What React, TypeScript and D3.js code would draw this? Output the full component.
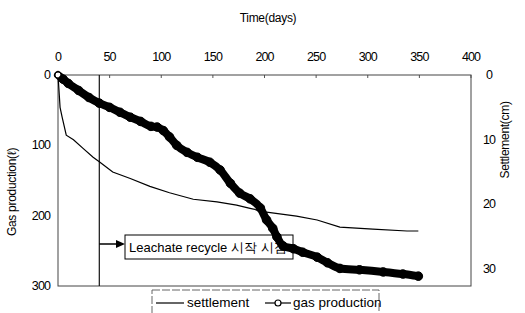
import * as d3 from 'd3';

// gas production (left axis, litres) vs time (days)
const gasDays = [0, 5, 10, 20, 30, 40, 50, 60, 70, 80, 90, 96, 102, 108, 115, 125, 135, 147, 157, 167, 176, 186, 196, 202, 208, 212, 218, 228, 237, 251, 261, 273, 292, 315, 334, 349];
const gasValues = [0, 6, 12, 22, 32, 40, 46, 53, 60, 66, 73, 74, 79, 88, 100, 110, 117, 124, 135, 154, 168, 176, 189, 206, 218, 230, 243, 247, 252, 259, 267, 275, 277, 280, 283, 286];

// settlement (right axis, cm) vs time (days)
const settleDays = [0, 2, 4, 8, 15, 24, 34, 40, 53, 70, 89, 108, 131, 154, 173, 186, 202, 231, 251, 273, 305, 338, 349];
const settleValues = [0, 5.0, 6.5, 9.3, 10.0, 11.3, 12.7, 13.4, 15.0, 16.0, 17.2, 18.2, 19.2, 19.6, 20.1, 20.6, 21.2, 21.8, 22.4, 23.5, 23.8, 24.1, 24.1];

const timeTicks = [0, 50, 100, 150, 200, 250, 300, 350, 400];
const gasTicks = [0, 100, 200, 300];
const settleTicks = [0, 10, 20, 30];
const recycleDay = 40;

const W = 525;
const H = 313;
const font = '"Liberation Sans", Arial, sans-serif';

export default function App() {
  const x = d3.scaleLinear().domain([0, 400]).range([58, 471]);
  const yL = d3.scaleLinear().domain([0, 300]).range([75, 286]);
  const yR = d3.scaleLinear().domain([0, 32.6]).range([75, 286]);

  const gasPts = gasDays.map((d, i) => [d, gasValues[i]] as [number, number]);
  const setPts = settleDays.map((d, i) => [d, settleValues[i]] as [number, number]);

  const gasLine = d3.line<[number, number]>().x((d) => x(d[0])).y((d) => yL(d[1])).curve(d3.curveMonotoneX);
  const setLine = d3.line<[number, number]>().x((d) => x(d[0])).y((d) => yR(d[1]));

  const [x0, x1] = x.range();
  const [y0, y1] = yL.range();
  const arrowY = 244;
  const boxX = 125;

  return (
    <svg width={W} height={H} style={{ position: 'absolute', left: 0, top: 0, background: '#fff' }} fontFamily={font}>
      {/* titles */}
      <text x={268} y={22} textAnchor="middle" fontSize={12} letterSpacing={-0.3}>Time(days)</text>
      <text transform={`translate(16,192) rotate(-90)`} textAnchor="middle" fontSize={12} letterSpacing={-0.3}>Gas production(ℓ)</text>
      <text transform={`translate(509,140) rotate(-90)`} textAnchor="middle" fontSize={12} letterSpacing={-0.3}>Settlement(cm)</text>

      {/* axis labels */}
      {timeTicks.map((t) => (
        <g key={t}>
          <text x={x(t)} y={61} textAnchor="middle" fontSize={12.5} letterSpacing={-0.9}>{t}</text>
          <line x1={x(t)} x2={x(t)} y1={y0} y2={y0 + 3} stroke="#555" />
        </g>
      ))}
      {gasTicks.map((t) => (
        <text key={t} x={50} y={yL(t) + 4} textAnchor="end" fontSize={12.5} letterSpacing={-0.9}>{t}</text>
      ))}
      {settleTicks.map((t) => (
        <text key={t} x={489} y={yR(t) + 4} textAnchor="middle" fontSize={12.5} letterSpacing={-0.9}>{t}</text>
      ))}

      {/* frame */}
      <rect x={x0} y={y0} width={x1 - x0} height={y1 - y0} fill="none" stroke="#444" strokeWidth={1} />

      {/* leachate recycle start */}
      <line x1={x(recycleDay)} x2={x(recycleDay)} y1={y0} y2={y1} stroke="#111" strokeWidth={1.2} />
      <line x1={x(recycleDay)} x2={boxX - 7} y1={arrowY} y2={arrowY} stroke="#000" strokeWidth={1.5} />
      <path d={`M${boxX - 9},${arrowY - 4} L${boxX},${arrowY} L${boxX - 9},${arrowY + 4} Z`} fill="#000" />
      <rect x={boxX} y={235} width={168} height={24} fill="#fff" stroke="#000" strokeWidth={1} />
      <text x={boxX + 4} y={252} fontSize={13} fill="#000">Leachate recycle 시작 시점</text>

      {/* settlement */}
      <path d={setLine(setPts) ?? ''} fill="none" stroke="#000" strokeWidth={1.2} />

      {/* gas production */}
      <path d={gasLine(gasPts) ?? ''} fill="none" stroke="#000" strokeWidth={8} strokeLinecap="round" strokeLinejoin="round" />
      {gasPts.map((d, i) => (
        <circle key={i} cx={x(d[0])} cy={yL(d[1])} r={i === 0 ? 3 : 4.3} fill={i === 0 ? '#fff' : '#000'} stroke="#000" strokeWidth={1} />
      ))}

      {/* legend */}
      <rect x={152} y={290} width={227} height={40} fill="#fff" stroke="#666" strokeWidth={1} strokeDasharray="8 2" />
      <line x1={156} x2={184} y1={303} y2={303} stroke="#000" strokeWidth={1.2} />
      <text x={187} y={307} fontSize={13.5}>settlement</text>
      <line x1={265} x2={291} y1={303} y2={303} stroke="#000" strokeWidth={1.2} />
      <circle cx={278} cy={303} r={3} fill="#fff" stroke="#000" strokeWidth={1.2} />
      <text x={293} y={307} fontSize={13.5}>gas production</text>
    </svg>
  );
}
